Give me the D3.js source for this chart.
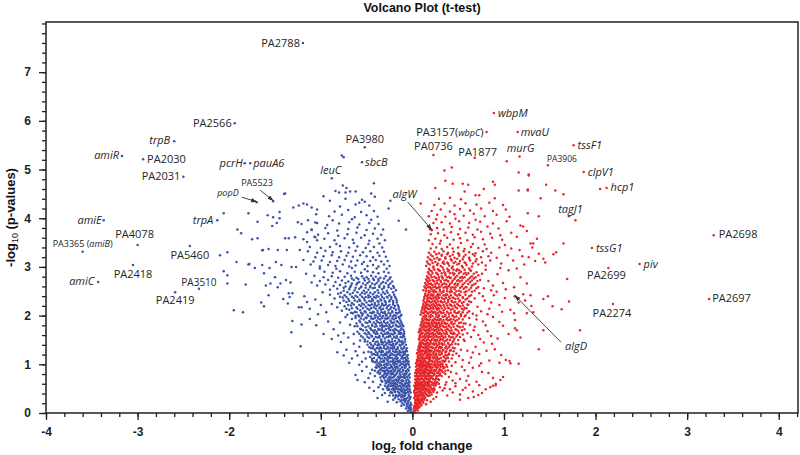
<!DOCTYPE html>
<html><head><meta charset="utf-8">
<script src="https://cdn.jsdelivr.net/npm/d3@7"></script>
<style>body{margin:0;background:#fff}</style>
</head><body>
<svg id="chart" width="800" height="455"></svg>
<script>
// ---------------- DATA ----------------
const chartTitle = "Volcano Plot (t-test)";
const xTickValues = [-4,-3,-2,-1,0,1,2,3,4];
const yTickValues = [0,1,2,3,4,5,6,7];

// down-regulated genes (log2 FC < 0): [log2FC, -log10 p]
const downPts = [
[-0.01,0.02],[-0.03,0.05],[-0.02,0.09],[-0.05,0.04],[-0.04,0.12],[-0.07,0.09],[-0.03,0.16],[-0.06,0.14],[-0.09,0.17],[-0.02,0.21],[-0.05,0.19],[-0.08,0.23],[-0.11,0.20],[-0.04,0.25],[-0.07,0.27],[-0.10,0.26],[-0.13,0.24],[-0.03,0.29],[-0.09,0.30],[-0.15,0.28],[-0.12,0.15],[-0.17,0.22],[-0.21,0.27],[-0.27,0.23],[-0.38,0.31],
[-0.02,0.33],[-0.06,0.31],[-0.09,0.35],[-0.12,0.32],[-0.16,0.34],[-0.19,0.31],[-0.04,0.38],[-0.07,0.41],[-0.11,0.38],[-0.14,0.40],[-0.18,0.37],[-0.22,0.41],[-0.25,0.36],[-0.03,0.45],[-0.08,0.46],[-0.10,0.43],[-0.13,0.47],[-0.16,0.44],[-0.20,0.46],[-0.23,0.43],[-0.27,0.47],[-0.05,0.51],[-0.07,0.54],[-0.12,0.52],[-0.15,0.50],[-0.18,0.53],[-0.21,0.51],[-0.24,0.55],[-0.28,0.52],[-0.04,0.58],[-0.09,0.57],[-0.11,0.59],[-0.14,0.56],[-0.17,0.59],[-0.20,0.57],[-0.23,0.60],[-0.26,0.58],[-0.30,0.56],[-0.32,0.49],[-0.35,0.58],[-0.30,0.41],[-0.37,0.53],[-0.42,0.45],[-0.06,0.48],[-0.13,0.36],[-0.19,0.49],[-0.08,0.39],[-0.16,0.55],[-0.25,0.48],[-0.33,0.37],
[-0.03,0.63],[-0.07,0.62],[-0.10,0.65],[-0.12,0.61],[-0.16,0.64],[-0.19,0.62],[-0.22,0.66],[-0.26,0.63],[-0.29,0.61],[-0.05,0.69],[-0.08,0.72],[-0.11,0.68],[-0.14,0.71],[-0.18,0.69],[-0.21,0.73],[-0.24,0.70],[-0.27,0.68],[-0.31,0.72],[-0.34,0.67],[-0.04,0.77],[-0.09,0.76],[-0.13,0.78],[-0.15,0.75],[-0.19,0.77],[-0.23,0.79],[-0.25,0.75],[-0.28,0.78],[-0.33,0.76],[-0.36,0.80],[-0.06,0.83],[-0.08,0.81],[-0.12,0.84],[-0.17,0.82],[-0.20,0.85],[-0.22,0.82],[-0.26,0.84],[-0.30,0.83],[-0.32,0.86],[-0.38,0.83],[-0.41,0.87],[-0.05,0.90],[-0.10,0.89],[-0.13,0.91],[-0.15,0.88],[-0.18,0.92],[-0.21,0.90],[-0.24,0.93],[-0.28,0.89],[-0.31,0.92],[-0.35,0.90],[-0.39,0.93],[-0.07,0.96],[-0.09,0.98],[-0.14,0.97],[-0.17,0.95],[-0.20,0.99],[-0.23,0.96],[-0.27,0.98],[-0.30,0.95],[-0.34,0.98],[-0.37,0.96],[-0.44,0.89],[-0.48,0.72],[-0.55,0.86],[-0.60,0.68],[-0.62,0.78],[-0.50,0.95],[-0.43,0.64],[-0.47,0.52],[-0.58,0.99],[-0.41,0.76],[-0.52,0.63],[-0.46,0.81],[-0.11,0.74],[-0.17,0.66],[-0.24,0.87],[-0.29,0.81],[-0.06,0.74],[-0.16,0.86],[-0.35,0.73],
[-0.05,1.02],[-0.08,1.05],[-0.12,1.01],[-0.15,1.04],[-0.19,1.02],[-0.22,1.06],[-0.26,1.03],[-0.29,1.01],[-0.33,1.05],[-0.37,1.02],[-0.41,1.04],[-0.07,1.09],[-0.10,1.12],[-0.14,1.08],[-0.17,1.11],[-0.21,1.09],[-0.24,1.13],[-0.28,1.10],[-0.31,1.08],[-0.35,1.12],[-0.39,1.09],[-0.44,1.11],[-0.06,1.16],[-0.11,1.15],[-0.13,1.18],[-0.18,1.16],[-0.20,1.19],[-0.25,1.17],[-0.27,1.15],[-0.32,1.18],[-0.36,1.16],[-0.40,1.19],[-0.46,1.15],[-0.09,1.22],[-0.12,1.24],[-0.16,1.21],[-0.19,1.25],[-0.23,1.22],[-0.26,1.24],[-0.30,1.21],[-0.34,1.25],[-0.38,1.23],[-0.42,1.21],[-0.48,1.26],[-0.07,1.29],[-0.11,1.31],[-0.14,1.28],[-0.18,1.30],[-0.22,1.32],[-0.25,1.29],[-0.29,1.31],[-0.33,1.28],[-0.36,1.32],[-0.41,1.30],[-0.45,1.33],[-0.09,1.36],[-0.13,1.38],[-0.16,1.35],[-0.20,1.37],[-0.23,1.39],[-0.27,1.36],[-0.31,1.38],[-0.35,1.35],[-0.38,1.39],[-0.43,1.37],[-0.49,1.40],[-0.10,1.43],[-0.12,1.46],[-0.17,1.44],[-0.21,1.42],[-0.24,1.46],[-0.28,1.43],[-0.32,1.45],[-0.37,1.42],[-0.40,1.46],[-0.46,1.44],[-0.52,1.47],[-0.55,1.05],[-0.60,1.18],[-0.66,1.12],[-0.72,1.30],[-0.58,1.36],[-0.64,1.42],[-0.78,1.46],[-0.53,1.24],[-0.69,1.03],[-0.82,1.25],[-0.57,1.49],[-0.62,1.27],[-0.51,1.12],[-0.75,1.18],[-0.14,1.48],[-0.26,1.49],[-0.34,1.48],[-0.08,1.26],[-0.16,1.07],[-0.29,1.19],[-0.21,1.35],[-0.39,1.33],[-0.44,1.07],
[-0.08,1.52],[-0.11,1.55],[-0.15,1.51],[-0.18,1.54],[-0.22,1.52],[-0.26,1.56],[-0.30,1.53],[-0.34,1.51],[-0.38,1.55],[-0.42,1.52],[-0.47,1.54],[-0.52,1.51],[-0.10,1.59],[-0.13,1.62],[-0.17,1.58],[-0.21,1.61],[-0.25,1.59],[-0.28,1.63],[-0.32,1.60],[-0.36,1.58],[-0.40,1.62],[-0.45,1.59],[-0.50,1.61],[-0.56,1.58],[-0.09,1.67],[-0.14,1.66],[-0.16,1.69],[-0.20,1.67],[-0.24,1.70],[-0.27,1.66],[-0.31,1.68],[-0.35,1.71],[-0.39,1.67],[-0.43,1.69],[-0.48,1.66],[-0.54,1.70],[-0.60,1.67],[-0.12,1.74],[-0.15,1.77],[-0.19,1.73],[-0.23,1.76],[-0.26,1.74],[-0.30,1.78],[-0.33,1.75],[-0.37,1.73],[-0.41,1.77],[-0.46,1.74],[-0.51,1.76],[-0.57,1.73],[-0.63,1.78],[-0.11,1.82],[-0.14,1.84],[-0.18,1.81],[-0.22,1.85],[-0.25,1.82],[-0.29,1.84],[-0.33,1.81],[-0.36,1.85],[-0.40,1.83],[-0.44,1.81],[-0.49,1.85],[-0.55,1.82],[-0.61,1.84],[-0.13,1.90],[-0.17,1.89],[-0.20,1.92],[-0.24,1.90],[-0.28,1.93],[-0.31,1.89],[-0.35,1.92],[-0.39,1.90],[-0.43,1.93],[-0.47,1.89],[-0.53,1.92],[-0.58,1.90],[-0.66,1.93],[-0.15,1.97],[-0.21,1.98],[-0.27,1.96],[-0.32,1.99],[-0.38,1.97],[-0.45,1.98],[-0.51,1.96],[-0.70,1.55],[-0.75,1.64],[-0.81,1.59],[-0.68,1.81],[-0.86,1.72],[-0.92,1.88],[-0.73,1.97],[-0.97,1.62],[-1.05,1.80],[-1.12,1.93],[-0.79,1.86],[-0.88,1.52],[-0.64,1.62],[-0.58,1.98],
[-0.12,2.02],[-0.16,2.05],[-0.20,2.01],[-0.24,2.04],[-0.28,2.02],[-0.32,2.06],[-0.36,2.03],[-0.40,2.01],[-0.44,2.05],[-0.49,2.02],[-0.54,2.04],[-0.59,2.01],[-0.65,2.05],[-0.71,2.02],[-0.14,2.10],[-0.18,2.12],[-0.22,2.09],[-0.26,2.11],[-0.30,2.08],[-0.34,2.12],[-0.38,2.10],[-0.43,2.08],[-0.47,2.12],[-0.52,2.09],[-0.57,2.11],[-0.63,2.08],[-0.69,2.12],[-0.77,2.10],[-0.15,2.18],[-0.19,2.20],[-0.23,2.17],[-0.27,2.19],[-0.31,2.21],[-0.35,2.18],[-0.39,2.20],[-0.42,2.17],[-0.46,2.21],[-0.51,2.18],[-0.56,2.20],[-0.61,2.17],[-0.67,2.21],[-0.74,2.19],[-0.82,2.17],[-0.17,2.27],[-0.21,2.26],[-0.25,2.29],[-0.29,2.27],[-0.33,2.25],[-0.37,2.28],[-0.41,2.26],[-0.45,2.29],[-0.50,2.27],[-0.55,2.25],[-0.60,2.29],[-0.66,2.26],[-0.72,2.28],[-0.79,2.26],[-0.18,2.35],[-0.23,2.34],[-0.27,2.37],[-0.31,2.35],[-0.35,2.33],[-0.40,2.36],[-0.44,2.34],[-0.48,2.37],[-0.53,2.35],[-0.58,2.33],[-0.64,2.36],[-0.70,2.34],[-0.76,2.37],[-0.85,2.35],[-0.20,2.43],[-0.25,2.42],[-0.30,2.45],[-0.34,2.43],[-0.39,2.41],[-0.43,2.44],[-0.48,2.42],[-0.52,2.45],[-0.57,2.43],[-0.62,2.41],[-0.68,2.44],[-0.74,2.42],[-0.81,2.45],[-0.90,2.43],[-0.94,2.07],[-1.00,2.22],[-1.06,2.33],[-0.98,2.48],[-1.12,2.14],[-1.18,2.40],[-0.88,2.24],[-1.03,2.03],[-1.15,2.28],
[-0.18,2.52],[-0.23,2.55],[-0.28,2.51],[-0.33,2.54],[-0.38,2.52],[-0.43,2.56],[-0.48,2.53],[-0.53,2.51],[-0.58,2.55],[-0.63,2.52],[-0.69,2.54],[-0.75,2.51],[-0.82,2.55],[-0.90,2.53],[-0.21,2.61],[-0.26,2.63],[-0.31,2.60],[-0.36,2.62],[-0.41,2.64],[-0.46,2.61],[-0.51,2.63],[-0.56,2.60],[-0.61,2.64],[-0.67,2.62],[-0.73,2.60],[-0.79,2.63],[-0.86,2.61],[-0.95,2.64],[-1.04,2.62],[-0.22,2.70],[-0.27,2.72],[-0.32,2.69],[-0.37,2.71],[-0.42,2.73],[-0.47,2.70],[-0.52,2.72],[-0.58,2.69],[-0.64,2.73],[-0.70,2.70],[-0.77,2.72],[-0.84,2.69],[-0.92,2.73],[-1.01,2.71],[-1.10,2.68],[-0.24,2.79],[-0.29,2.81],[-0.35,2.78],[-0.40,2.80],[-0.45,2.82],[-0.50,2.79],[-0.55,2.81],[-0.61,2.78],[-0.67,2.82],[-0.74,2.80],[-0.81,2.78],[-0.88,2.81],[-0.97,2.79],[-1.07,2.82],[-0.26,2.88],[-0.31,2.90],[-0.37,2.87],[-0.43,2.89],[-0.49,2.91],[-0.56,2.88],[-0.63,2.90],[-0.71,2.87],[-0.79,2.91],[-0.87,2.88],[-0.96,2.90],[-1.16,2.86],[-0.28,2.96],[-0.39,2.97],[-0.52,2.95],[-0.66,2.98],[-0.83,2.96],[-1.01,2.97],
[-0.25,3.02],[-0.31,3.05],[-0.37,3.01],[-0.43,3.04],[-0.49,3.02],[-0.55,3.06],[-0.62,3.03],[-0.69,3.01],[-0.76,3.05],[-0.84,3.02],[-0.92,3.04],[-1.01,3.01],[-1.11,3.05],[-0.27,3.12],[-0.34,3.11],[-0.40,3.14],[-0.46,3.12],[-0.53,3.10],[-0.60,3.13],[-0.67,3.11],[-0.74,3.14],[-0.82,3.12],[-0.90,3.10],[-0.99,3.13],[-1.08,3.11],[-1.19,3.14],[-0.29,3.21],[-0.36,3.23],[-0.43,3.20],[-0.50,3.22],[-0.57,3.24],[-0.65,3.21],[-0.72,3.23],[-0.80,3.20],[-0.88,3.24],[-0.97,3.22],[-1.06,3.20],[-0.31,3.31],[-0.38,3.29],[-0.46,3.32],[-0.54,3.30],[-0.62,3.33],[-0.70,3.29],[-0.78,3.32],[-0.87,3.30],[-0.95,3.33],[-1.04,3.29],[-1.14,3.32],[-0.33,3.40],[-0.42,3.41],[-0.51,3.39],[-0.60,3.42],[-0.69,3.40],[-0.79,3.43],[-0.90,3.41],[-1.00,3.39],[-0.36,3.48],[-0.48,3.47],[-0.64,3.49],[-0.83,3.47],
[-0.30,3.55],[-0.38,3.58],[-0.47,3.54],[-0.56,3.60],[-0.65,3.56],[-0.74,3.59],[-0.85,3.55],[-0.96,3.58],[-1.07,3.62],[-1.19,3.57],[-0.34,3.66],[-0.43,3.68],[-0.52,3.65],[-0.61,3.70],[-0.71,3.67],[-0.81,3.64],[-0.92,3.69],[-1.03,3.66],[-1.15,3.71],[-0.32,3.77],[-0.41,3.79],[-0.50,3.76],[-0.60,3.81],[-0.70,3.78],[-0.82,3.75],[-0.95,3.80],[-1.10,3.77],[-0.37,3.88],[-0.47,3.90],[-0.58,3.87],[-0.69,3.92],[-0.80,3.89],[-0.93,3.86],[-1.06,3.91],[-1.21,3.88],[-0.45,3.97],[-0.66,3.98],[-0.87,3.96],
[-0.38,4.03],[-0.50,4.06],[-0.63,4.02],[-0.77,4.07],[-0.91,4.04],[-1.05,4.08],[-0.42,4.15],[-0.56,4.13],[-0.70,4.17],[-0.85,4.14],[-0.47,4.26],[-0.62,4.28],[-0.79,4.24],[-0.55,4.38],[-0.73,4.40],[-0.90,4.36],[-0.41,4.44],[-0.62,4.55],[-0.72,4.62],[-0.84,4.56],[-0.42,4.72]
];

// extra genes inside the dense down-regulated core
const downCore = [
[-0.01,0.07],[-0.02,0.12],[-0.04,0.09],[-0.06,0.19],[-0.01,0.17],[-0.08,0.27],[-0.12,0.26],[-0.05,0.23],[-0.03,0.31],
[-0.04,0.35],[-0.08,0.36],[-0.11,0.34],[-0.15,0.36],[-0.18,0.35],[-0.21,0.36],
[-0.02,0.42],[-0.05,0.43],[-0.09,0.42],[-0.12,0.44],[-0.15,0.42],[-0.19,0.43],[-0.24,0.42],
[-0.03,0.49],[-0.09,0.50],[-0.11,0.48],[-0.14,0.49],[-0.17,0.50],[-0.22,0.49],[-0.26,0.50],
[-0.03,0.55],[-0.06,0.56],[-0.10,0.55],[-0.13,0.56],[-0.19,0.55],[-0.22,0.56],[-0.27,0.55],
[-0.05,0.61],[-0.08,0.60],[-0.14,0.62],[-0.18,0.60],[-0.21,0.61],[-0.24,0.62],[-0.28,0.64],
[-0.04,0.66],[-0.07,0.67],[-0.12,0.66],[-0.15,0.68],[-0.20,0.67],[-0.25,0.66],[-0.30,0.67],[-0.33,0.64],
[-0.03,0.73],[-0.09,0.73],[-0.13,0.74],[-0.16,0.73],[-0.20,0.75],[-0.23,0.73],[-0.26,0.72],[-0.29,0.74],[-0.32,0.75],
[-0.03,0.80],[-0.07,0.79],[-0.10,0.80],[-0.14,0.81],[-0.18,0.79],[-0.21,0.80],[-0.24,0.81],[-0.27,0.80],[-0.31,0.79],[-0.35,0.82],
[-0.04,0.87],[-0.07,0.86],[-0.10,0.87],[-0.14,0.86],[-0.19,0.88],[-0.23,0.86],[-0.27,0.87],[-0.30,0.86],[-0.34,0.88],[-0.37,0.86],
[-0.03,0.94],[-0.08,0.93],[-0.11,0.94],[-0.16,0.93],[-0.19,0.95],[-0.22,0.94],[-0.26,0.92],[-0.29,0.94],[-0.33,0.93],[-0.36,0.95],[-0.40,0.94],
[-0.04,0.99],[-0.07,1.00],[-0.10,1.01],[-0.13,0.99],[-0.17,1.00],[-0.21,1.01],[-0.24,0.99],[-0.28,1.00],[-0.31,0.99],[-0.35,1.00],[-0.39,0.99],
[-0.04,1.06],[-0.06,1.07],[-0.10,1.06],[-0.13,1.05],[-0.18,1.06],[-0.20,1.05],[-0.24,1.06],[-0.27,1.07],[-0.31,1.05],[-0.35,1.06],[-0.39,1.05],[-0.43,1.06],
[-0.05,1.12],[-0.08,1.13],[-0.12,1.12],[-0.16,1.13],[-0.19,1.12],[-0.22,1.13],[-0.26,1.12],[-0.30,1.13],[-0.33,1.12],[-0.37,1.14],[-0.42,1.13],
[-0.05,1.19],[-0.08,1.20],[-0.10,1.19],[-0.14,1.20],[-0.17,1.19],[-0.22,1.20],[-0.24,1.19],[-0.28,1.20],[-0.31,1.19],[-0.34,1.20],[-0.38,1.19],[-0.44,1.20],
[-0.06,1.27],[-0.10,1.26],[-0.14,1.25],[-0.17,1.26],[-0.21,1.27],[-0.25,1.26],[-0.28,1.25],[-0.32,1.26],[-0.36,1.27],[-0.40,1.26],[-0.45,1.25],
[-0.06,1.33],[-0.09,1.34],[-0.12,1.33],[-0.16,1.32],[-0.20,1.33],[-0.24,1.34],[-0.27,1.33],[-0.31,1.34],[-0.34,1.33],[-0.38,1.34],[-0.43,1.33],[-0.47,1.35],
[-0.07,1.40],[-0.11,1.41],[-0.14,1.40],[-0.18,1.41],[-0.22,1.40],[-0.25,1.41],[-0.29,1.40],[-0.33,1.41],[-0.36,1.40],[-0.41,1.41],[-0.45,1.40],
[-0.08,1.47],[-0.11,1.48],[-0.15,1.47],[-0.19,1.48],[-0.22,1.47],[-0.26,1.46],[-0.30,1.47],[-0.34,1.46],[-0.38,1.47],[-0.43,1.48],[-0.49,1.47],
[-0.09,1.57],[-0.13,1.56],[-0.17,1.55],[-0.20,1.56],[-0.24,1.57],[-0.28,1.56],[-0.32,1.57],[-0.36,1.55],[-0.40,1.56],[-0.44,1.57],[-0.49,1.56],[-0.54,1.55],
[-0.09,1.63],[-0.12,1.64],[-0.15,1.63],[-0.19,1.64],[-0.23,1.63],[-0.26,1.64],[-0.30,1.63],[-0.34,1.64],[-0.38,1.63],[-0.42,1.65],[-0.47,1.63],[-0.52,1.64],[-0.58,1.63],
[-0.10,1.71],[-0.13,1.70],[-0.18,1.71],[-0.21,1.70],[-0.25,1.71],[-0.29,1.72],[-0.33,1.70],[-0.37,1.71],[-0.41,1.70],[-0.45,1.71],[-0.50,1.70],[-0.56,1.72],
[-0.10,1.78],[-0.13,1.79],[-0.17,1.78],[-0.21,1.79],[-0.25,1.78],[-0.28,1.79],[-0.32,1.78],[-0.35,1.79],[-0.39,1.78],[-0.44,1.79],[-0.48,1.78],[-0.54,1.79],[-0.60,1.78],
[-0.12,1.86],[-0.16,1.87],[-0.20,1.86],[-0.23,1.87],[-0.27,1.86],[-0.31,1.87],[-0.34,1.86],[-0.38,1.87],[-0.42,1.86],[-0.46,1.87],[-0.51,1.86],[-0.57,1.87],
[-0.14,1.94],[-0.18,1.95],[-0.22,1.94],[-0.26,1.95],[-0.30,1.94],[-0.33,1.95],[-0.37,1.94],[-0.41,1.95],[-0.45,1.94],[-0.50,1.95],[-0.56,1.94],[-0.62,1.95],
[-0.13,1.99],[-0.18,2.00],[-0.24,1.99],[-0.29,2.00],[-0.35,1.99],[-0.41,2.00],[-0.48,1.99],[-0.55,2.00],[-0.62,1.99],
[-0.14,2.07],[-0.18,2.06],[-0.22,2.07],[-0.26,2.06],[-0.30,2.05],[-0.34,2.07],[-0.38,2.06],[-0.42,2.07],[-0.46,2.06],[-0.51,2.07],[-0.56,2.06],[-0.61,2.07],[-0.67,2.06],
[-0.15,2.14],[-0.20,2.15],[-0.24,2.14],[-0.28,2.15],[-0.32,2.14],[-0.36,2.15],[-0.40,2.14],[-0.45,2.15],[-0.49,2.14],[-0.54,2.15],[-0.60,2.14],[-0.66,2.15],[-0.72,2.14],
[-0.16,2.22],[-0.21,2.23],[-0.25,2.22],[-0.29,2.23],[-0.33,2.22],[-0.37,2.23],[-0.41,2.22],[-0.44,2.23],[-0.48,2.22],[-0.53,2.23],[-0.58,2.22],[-0.64,2.23],[-0.70,2.22],
[-0.17,2.31],[-0.21,2.30],[-0.25,2.31],[-0.30,2.30],[-0.34,2.31],[-0.38,2.30],[-0.43,2.31],[-0.47,2.30],[-0.52,2.31],[-0.57,2.30],[-0.63,2.31],[-0.69,2.30],[-0.75,2.31],
[-0.19,2.39],[-0.23,2.38],[-0.28,2.39],[-0.33,2.38],[-0.37,2.39],[-0.42,2.38],[-0.46,2.39],[-0.51,2.38],[-0.55,2.39],[-0.60,2.38],[-0.66,2.39],[-0.72,2.38],[-0.79,2.39],
[-0.21,2.48],[-0.27,2.47],[-0.32,2.48],[-0.37,2.47],[-0.41,2.48],[-0.46,2.47],[-0.50,2.48],[-0.55,2.47],[-0.60,2.48],[-0.65,2.47],[-0.71,2.48],[-0.78,2.47],
[-0.20,2.57],[-0.26,2.58],[-0.31,2.57],[-0.36,2.58],[-0.41,2.57],[-0.46,2.58],[-0.51,2.57],[-0.56,2.58],[-0.62,2.57],[-0.68,2.58],[-0.75,2.57],
[-0.24,2.66],[-0.29,2.67],[-0.34,2.66],[-0.39,2.67],[-0.44,2.66],[-0.49,2.67],[-0.54,2.66],[-0.60,2.67],[-0.66,2.66],[-0.73,2.67],
[-0.25,2.75],[-0.31,2.76],[-0.37,2.75],[-0.43,2.76],[-0.48,2.75],[-0.53,2.76],[-0.59,2.75],[-0.66,2.76]
];

// down-regulated genes far from the main cloud
const downOutliers = [
[-2.06,4.10],[-1.79,4.10],[-1.69,3.93],[-1.91,3.77],[-1.87,3.69],[-1.75,3.57],[-1.69,3.59],[-2.10,3.24],[-2.02,3.30],[-1.92,3.10],[-1.79,3.05],[-2.06,2.91],[-2.02,2.83],[-2.02,2.66],[-1.82,2.64],[-1.95,2.11],[-1.85,2.07],[-1.64,3.34],[-1.78,3.06],[-1.72,2.98],[-1.64,3.04],[-1.56,2.98],[-1.49,3.10],[-1.43,3.04],[-1.32,3.00],[-1.27,3.00],[-1.63,3.35],[-1.57,3.37],[-1.47,3.35],[-1.39,3.59],[-1.35,3.59],[-1.28,3.61],[-1.37,3.35],[-1.58,4.06],[-1.48,3.90],[-1.53,3.84],[-1.52,4.02],[-1.45,4.00],[-1.40,4.50],[-1.45,4.13],[-1.24,4.26],[-1.19,4.30],[-1.15,4.28],[-1.25,3.92],[-1.14,3.96],[-1.10,3.76],[-1.04,3.90],[-1.06,3.61],[-1.15,3.51],[-1.23,3.35],[-1.12,3.41],[-1.04,3.55],[-1.62,2.87],[-1.60,2.62],[-1.57,2.42],[-1.65,2.27],[-1.62,2.19],[-1.55,2.66],[-1.50,2.79],[-1.47,2.58],[-1.44,2.66],[-1.38,2.73],[-1.33,2.68],[-1.41,2.34],[-1.36,2.25],[-1.35,2.46],[-1.31,2.46],[-1.34,2.38],[-1.24,2.17],[-1.21,2.17],[-1.31,1.89],[-1.32,1.66],[-1.21,1.82],[-1.22,1.37],[-1.39,4.51],[-0.97,4.45],[-0.77,5.29],[-0.75,5.25],[-0.76,4.67],[-0.80,4.53],[-0.73,4.53],[-0.68,4.55],[-0.45,4.51],[-0.24,4.36],[-0.26,4.20],[-0.15,3.95],[-0.07,3.77],[-1.30,4.22],[-1.10,4.22],[-1.04,4.18],[-0.58,4.32],[-0.52,4.34]
];

// up-regulated genes (log2 FC > 0)
const upPts = [
[0.01,0.02],[0.02,0.05],[0.03,0.03],[0.02,0.09],[0.04,0.07],[0.03,0.12],[0.05,0.10],[0.06,0.14],[0.04,0.16],[0.07,0.18],[0.03,0.19],[0.05,0.21],[0.08,0.22],[0.06,0.24],[0.10,0.25],[0.04,0.26],[0.07,0.28],[0.11,0.29],[0.09,0.19],[0.13,0.27],[0.05,0.29],[0.08,0.13],[0.12,0.21],[0.16,0.26],[0.20,0.23],[0.02,0.14],[0.06,0.05],[0.10,0.16],[0.15,0.18],[0.23,0.29],
[0.02,0.31],[0.04,0.34],[0.06,0.32],[0.08,0.35],[0.10,0.31],[0.12,0.34],[0.14,0.32],[0.17,0.35],[0.03,0.38],[0.05,0.41],[0.07,0.37],[0.09,0.40],[0.11,0.38],[0.13,0.42],[0.15,0.39],[0.18,0.41],[0.21,0.38],[0.02,0.45],[0.04,0.47],[0.06,0.44],[0.08,0.48],[0.10,0.45],[0.12,0.47],[0.14,0.44],[0.16,0.48],[0.19,0.45],[0.22,0.47],[0.03,0.52],[0.05,0.54],[0.07,0.51],[0.09,0.55],[0.11,0.52],[0.13,0.54],[0.15,0.51],[0.17,0.55],[0.20,0.53],[0.23,0.51],[0.04,0.58],[0.06,0.60],[0.08,0.57],[0.10,0.59],[0.12,0.58],[0.14,0.60],[0.16,0.57],[0.18,0.59],[0.21,0.58],[0.25,0.56],[0.27,0.42],[0.30,0.53],[0.33,0.46],[0.36,0.58],[0.41,0.49],[0.47,0.55],[0.52,0.38],[0.58,0.52],[0.66,0.44],[0.73,0.57],[0.80,0.49],[0.26,0.33],[0.29,0.60],[0.38,0.36],[0.44,0.42],[0.62,0.58],[0.88,0.56],[0.55,0.47],[0.24,0.47],[0.35,0.51],[0.52,0.27],[0.61,0.31],[0.67,0.33],[0.72,0.37],[0.76,0.41],[0.85,0.53],[0.91,0.57],
[0.03,0.62],[0.05,0.65],[0.07,0.61],[0.09,0.64],[0.11,0.62],[0.13,0.66],[0.15,0.63],[0.17,0.61],[0.19,0.65],[0.22,0.62],[0.25,0.64],[0.04,0.69],[0.06,0.72],[0.08,0.68],[0.10,0.71],[0.12,0.69],[0.14,0.73],[0.16,0.70],[0.18,0.68],[0.20,0.72],[0.23,0.69],[0.26,0.71],[0.29,0.68],[0.03,0.76],[0.05,0.78],[0.07,0.75],[0.09,0.79],[0.11,0.76],[0.13,0.78],[0.15,0.75],[0.17,0.79],[0.19,0.77],[0.21,0.75],[0.24,0.79],[0.27,0.76],[0.30,0.78],[0.04,0.83],[0.06,0.85],[0.08,0.82],[0.10,0.86],[0.12,0.83],[0.14,0.85],[0.16,0.82],[0.18,0.86],[0.20,0.84],[0.22,0.82],[0.25,0.86],[0.28,0.83],[0.32,0.85],[0.05,0.90],[0.07,0.92],[0.09,0.89],[0.11,0.93],[0.13,0.90],[0.15,0.92],[0.17,0.89],[0.19,0.93],[0.21,0.91],[0.24,0.89],[0.27,0.93],[0.30,0.90],[0.34,0.92],[0.06,0.97],[0.08,0.99],[0.10,0.96],[0.12,0.98],[0.14,0.96],[0.16,0.99],[0.18,0.97],[0.20,0.95],[0.23,0.99],[0.26,0.96],[0.29,0.98],[0.33,0.96],[0.37,0.63],[0.40,0.74],[0.44,0.67],[0.48,0.81],[0.52,0.70],[0.57,0.88],[0.61,0.76],[0.66,0.93],[0.70,0.64],[0.76,0.84],[0.83,0.82],[0.88,0.72],[0.99,0.74],[0.96,0.68],[0.91,0.60],[0.39,0.88],[0.43,0.97],[0.36,0.80],[0.54,0.95],[0.47,0.61],[0.59,0.66],[0.73,0.97],[0.42,0.84],[0.38,0.95],
[0.04,1.02],[0.06,1.05],[0.08,1.01],[0.10,1.04],[0.12,1.02],[0.14,1.06],[0.17,1.03],[0.19,1.01],[0.22,1.05],[0.25,1.02],[0.28,1.04],[0.31,1.01],[0.35,1.05],[0.05,1.09],[0.07,1.12],[0.09,1.08],[0.11,1.11],[0.13,1.09],[0.16,1.13],[0.18,1.10],[0.20,1.08],[0.23,1.12],[0.26,1.09],[0.29,1.11],[0.33,1.08],[0.37,1.12],[0.06,1.16],[0.08,1.18],[0.10,1.15],[0.12,1.19],[0.15,1.16],[0.17,1.18],[0.19,1.15],[0.21,1.19],[0.24,1.17],[0.27,1.15],[0.30,1.19],[0.34,1.16],[0.38,1.18],[0.05,1.23],[0.07,1.25],[0.09,1.22],[0.11,1.26],[0.14,1.23],[0.16,1.25],[0.18,1.22],[0.20,1.26],[0.23,1.24],[0.26,1.22],[0.29,1.26],[0.32,1.23],[0.36,1.25],[0.40,1.22],[0.06,1.30],[0.08,1.32],[0.10,1.29],[0.13,1.33],[0.15,1.30],[0.17,1.32],[0.19,1.29],[0.22,1.33],[0.25,1.31],[0.28,1.29],[0.31,1.33],[0.34,1.30],[0.38,1.32],[0.42,1.29],[0.07,1.37],[0.09,1.39],[0.11,1.36],[0.14,1.40],[0.16,1.37],[0.18,1.39],[0.21,1.36],[0.24,1.40],[0.27,1.38],[0.30,1.36],[0.33,1.40],[0.37,1.37],[0.41,1.39],[0.08,1.44],[0.10,1.46],[0.12,1.43],[0.15,1.47],[0.17,1.44],[0.20,1.46],[0.23,1.43],[0.26,1.47],[0.29,1.45],[0.32,1.43],[0.35,1.47],[0.39,1.44],[0.44,1.46],[0.47,1.04],[0.51,1.17],[0.55,1.09],[0.60,1.28],[0.64,1.14],[0.69,1.36],[0.73,1.21],[0.78,1.45],[0.84,1.08],[0.90,1.31],[0.97,1.19],[1.07,1.02],[0.46,1.33],[0.50,1.41],[0.57,1.48],[0.62,1.03],[0.66,1.24],[0.75,1.02],[0.81,1.28],[0.87,1.42],[0.48,1.22],[0.53,1.30],
[0.07,1.52],[0.09,1.55],[0.12,1.51],[0.14,1.54],[0.17,1.52],[0.19,1.56],[0.22,1.53],[0.25,1.51],[0.28,1.55],[0.31,1.52],[0.34,1.54],[0.38,1.51],[0.42,1.55],[0.46,1.53],[0.08,1.59],[0.10,1.62],[0.13,1.58],[0.15,1.61],[0.18,1.59],[0.21,1.63],[0.23,1.60],[0.26,1.58],[0.29,1.62],[0.32,1.59],[0.36,1.61],[0.40,1.58],[0.44,1.62],[0.49,1.60],[0.07,1.66],[0.09,1.68],[0.11,1.65],[0.14,1.69],[0.16,1.66],[0.19,1.68],[0.22,1.65],[0.24,1.69],[0.27,1.67],[0.30,1.65],[0.33,1.69],[0.37,1.66],[0.41,1.68],[0.45,1.65],[0.50,1.69],[0.08,1.73],[0.11,1.75],[0.13,1.72],[0.15,1.76],[0.18,1.73],[0.20,1.75],[0.23,1.72],[0.26,1.76],[0.28,1.74],[0.31,1.72],[0.35,1.76],[0.38,1.73],[0.42,1.75],[0.47,1.72],[0.52,1.76],[0.09,1.80],[0.12,1.82],[0.14,1.79],[0.17,1.83],[0.19,1.80],[0.22,1.82],[0.25,1.79],[0.27,1.83],[0.30,1.81],[0.33,1.79],[0.36,1.83],[0.40,1.80],[0.44,1.82],[0.49,1.79],[0.10,1.87],[0.12,1.89],[0.15,1.86],[0.18,1.90],[0.21,1.87],[0.23,1.89],[0.26,1.86],[0.29,1.90],[0.32,1.88],[0.35,1.86],[0.39,1.90],[0.43,1.87],[0.47,1.89],[0.53,1.86],[0.11,1.94],[0.14,1.96],[0.16,1.93],[0.20,1.97],[0.24,1.94],[0.28,1.96],[0.31,1.93],[0.34,1.97],[0.38,1.95],[0.42,1.93],[0.46,1.97],[0.51,1.94],[0.56,1.51],[0.60,1.64],[0.64,1.56],[0.68,1.77],[0.72,1.60],[0.77,1.88],[0.82,1.68],[0.88,1.97],[0.93,1.53],[0.99,1.79],[1.05,1.62],[1.12,1.91],[0.58,1.84],[0.62,1.95],[0.67,1.70],[0.74,1.52],[0.80,1.80],[0.86,1.58],[1.18,1.55],[0.57,1.72],[0.63,1.81],[0.70,1.92],[0.55,1.61],[0.95,1.87],
[0.09,2.02],[0.12,2.05],[0.14,2.01],[0.17,2.04],[0.20,2.02],[0.23,2.06],[0.26,2.03],[0.29,2.01],[0.32,2.05],[0.36,2.02],[0.40,2.04],[0.44,2.01],[0.48,2.05],[0.53,2.03],[0.58,2.01],[0.10,2.10],[0.13,2.12],[0.15,2.09],[0.18,2.13],[0.21,2.10],[0.24,2.08],[0.27,2.12],[0.30,2.09],[0.34,2.11],[0.38,2.08],[0.42,2.12],[0.46,2.10],[0.51,2.08],[0.56,2.12],[0.62,2.09],[0.11,2.17],[0.14,2.19],[0.16,2.16],[0.19,2.20],[0.22,2.17],[0.25,2.19],[0.28,2.16],[0.31,2.20],[0.35,2.18],[0.39,2.16],[0.43,2.20],[0.47,2.17],[0.52,2.19],[0.57,2.16],[0.12,2.24],[0.15,2.26],[0.17,2.23],[0.20,2.27],[0.23,2.24],[0.26,2.26],[0.29,2.23],[0.33,2.27],[0.37,2.25],[0.41,2.23],[0.45,2.27],[0.49,2.24],[0.54,2.26],[0.60,2.23],[0.12,2.31],[0.16,2.33],[0.18,2.30],[0.21,2.34],[0.24,2.31],[0.27,2.33],[0.31,2.30],[0.35,2.34],[0.39,2.32],[0.43,2.30],[0.47,2.34],[0.52,2.31],[0.58,2.33],[0.13,2.38],[0.16,2.40],[0.19,2.37],[0.22,2.41],[0.25,2.38],[0.28,2.40],[0.32,2.37],[0.36,2.41],[0.40,2.39],[0.44,2.37],[0.49,2.41],[0.55,2.38],[0.62,2.40],[0.14,2.45],[0.18,2.47],[0.21,2.44],[0.24,2.48],[0.28,2.45],[0.32,2.47],[0.37,2.44],[0.41,2.48],[0.46,2.46],[0.51,2.44],[0.57,2.48],[0.66,2.04],[0.71,2.18],[0.75,2.09],[0.79,2.31],[0.84,2.14],[0.89,2.42],[0.95,2.22],[1.01,2.36],[1.07,2.12],[1.16,2.27],[0.68,2.35],[0.73,2.46],[0.82,2.03],[0.92,2.49],[0.64,2.28],[0.70,2.00],[0.86,2.27],[0.98,2.08],[1.21,2.44],[0.77,2.40],
[0.12,2.52],[0.15,2.55],[0.18,2.51],[0.21,2.54],[0.24,2.52],[0.27,2.56],[0.30,2.53],[0.34,2.51],[0.38,2.55],[0.42,2.52],[0.46,2.54],[0.51,2.51],[0.56,2.55],[0.62,2.53],[0.68,2.51],[0.13,2.60],[0.16,2.62],[0.19,2.59],[0.22,2.63],[0.25,2.60],[0.29,2.58],[0.32,2.62],[0.36,2.59],[0.40,2.61],[0.44,2.58],[0.49,2.62],[0.54,2.60],[0.59,2.58],[0.65,2.62],[0.72,2.59],[0.14,2.67],[0.17,2.69],[0.20,2.66],[0.24,2.70],[0.27,2.67],[0.31,2.69],[0.35,2.66],[0.39,2.70],[0.43,2.68],[0.47,2.66],[0.52,2.70],[0.57,2.67],[0.63,2.69],[0.69,2.66],[0.15,2.74],[0.18,2.76],[0.22,2.73],[0.26,2.77],[0.29,2.74],[0.33,2.76],[0.37,2.73],[0.41,2.77],[0.46,2.75],[0.50,2.73],[0.55,2.77],[0.61,2.74],[0.67,2.76],[0.74,2.73],[0.16,2.81],[0.20,2.83],[0.24,2.80],[0.28,2.84],[0.32,2.81],[0.36,2.83],[0.40,2.80],[0.45,2.84],[0.49,2.82],[0.54,2.80],[0.59,2.84],[0.65,2.81],[0.72,2.83],[0.17,2.89],[0.21,2.91],[0.26,2.88],[0.30,2.92],[0.35,2.89],[0.39,2.91],[0.44,2.88],[0.48,2.92],[0.53,2.90],[0.58,2.88],[0.64,2.92],[0.70,2.89],[0.18,2.96],[0.23,2.98],[0.28,2.95],[0.33,2.99],[0.38,2.96],[0.43,2.98],[0.49,2.95],[0.55,2.99],[0.62,2.97],[0.78,2.56],[0.83,2.71],[0.88,2.62],[0.93,2.85],[0.99,2.67],[1.05,2.93],[1.11,2.58],[1.18,2.79],[0.80,2.94],[0.86,2.52],[0.96,2.98],[1.25,2.66],[1.02,2.54],[0.76,2.86],[1.14,2.97],
[0.15,3.02],[0.19,3.05],[0.23,3.01],[0.27,3.04],[0.31,3.02],[0.35,3.06],[0.40,3.03],[0.44,3.01],[0.49,3.05],[0.54,3.02],[0.59,3.04],[0.65,3.01],[0.72,3.05],[0.80,3.03],[0.16,3.11],[0.21,3.13],[0.25,3.10],[0.29,3.14],[0.34,3.11],[0.38,3.09],[0.43,3.13],[0.47,3.10],[0.52,3.12],[0.57,3.09],[0.63,3.13],[0.69,3.11],[0.76,3.09],[0.85,3.13],[0.17,3.20],[0.22,3.22],[0.27,3.19],[0.32,3.23],[0.36,3.20],[0.41,3.22],[0.46,3.19],[0.51,3.23],[0.56,3.21],[0.62,3.19],[0.68,3.23],[0.75,3.20],[0.83,3.22],[0.92,3.19],[0.18,3.29],[0.24,3.31],[0.29,3.28],[0.34,3.32],[0.39,3.29],[0.45,3.31],[0.50,3.28],[0.56,3.32],[0.62,3.30],[0.69,3.28],[0.77,3.32],[0.86,3.29],[0.20,3.38],[0.26,3.40],[0.32,3.37],[0.38,3.41],[0.44,3.38],[0.50,3.40],[0.57,3.37],[0.64,3.41],[0.72,3.39],[0.81,3.37],[0.95,3.40],[0.22,3.47],[0.30,3.48],[0.41,3.46],[0.53,3.49],[0.66,3.47],[0.79,3.46],[0.97,3.07],[1.04,3.24],[1.10,3.13],[1.17,3.35],[1.01,3.45],[1.22,3.05],[1.08,3.38],[1.29,3.48],[1.31,3.40],[1.38,3.27],[1.43,3.17],[1.54,3.26],[1.45,3.09],[1.57,3.30],[1.65,3.48],[1.27,3.20],[1.34,3.12],[1.20,3.22],
[0.18,3.55],[0.25,3.58],[0.31,3.54],[0.38,3.60],[0.45,3.56],[0.52,3.59],[0.60,3.55],[0.68,3.61],[0.77,3.57],[0.87,3.60],[0.98,3.56],[0.20,3.67],[0.28,3.69],[0.35,3.65],[0.42,3.71],[0.50,3.67],[0.58,3.70],[0.66,3.66],[0.75,3.72],[0.85,3.68],[0.96,3.65],[1.08,3.70],[0.19,3.78],[0.27,3.80],[0.34,3.77],[0.43,3.82],[0.52,3.78],[0.61,3.81],[0.71,3.77],[0.82,3.83],[0.94,3.79],[1.18,3.85],[1.21,3.83],[0.23,3.90],[0.32,3.92],[0.41,3.89],[0.51,3.94],[0.62,3.90],[0.74,3.93],[0.88,3.89],[1.03,3.94],[0.26,3.98],[0.47,3.99],[0.69,3.97],[1.14,3.62],[1.25,3.74],[1.36,3.58],
[0.18,4.04],[0.27,4.07],[0.36,4.03],[0.46,4.08],[0.56,4.05],[0.67,4.09],[0.79,4.04],[0.92,4.07],[1.06,4.03],[1.26,4.10],[1.38,4.04],[1.71,4.04],[0.21,4.15],[0.31,4.18],[0.41,4.14],[0.52,4.19],[0.63,4.16],[0.75,4.20],[0.88,4.15],[1.02,4.18],[0.09,4.30],[0.24,4.27],[0.35,4.30],[0.46,4.26],[0.58,4.31],[0.70,4.28],[0.84,4.32],[0.99,4.27],[0.29,4.40],[0.41,4.42],[0.53,4.39],[0.69,4.47],[0.73,4.47],[0.90,4.41],[1.40,4.41],[1.65,4.49],[1.56,4.57],[1.26,4.57],
[1.46,4.69],[1.27,4.88],[0.35,4.98],[0.43,5.04],[0.36,4.77],[0.44,4.71],[0.55,4.71],[0.61,4.69],[0.88,4.75],[0.90,4.69],[1.16,4.94],[1.27,4.90],[1.16,4.57],[1.26,4.59],[0.25,4.62],[0.57,4.55],[0.78,4.60],[1.17,5.27]
];

// extra genes inside the dense up-regulated core
const upCore = [
[0.02,0.11],[0.04,0.13],[0.03,0.22],[0.06,0.20],[0.09,0.23],[0.07,0.25],[0.11,0.24],[0.03,0.27],[0.09,0.28],[0.13,0.30],[0.05,0.17],[0.07,0.11],
[0.03,0.35],[0.05,0.36],[0.07,0.34],[0.09,0.37],[0.11,0.35],[0.13,0.36],[0.16,0.37],[0.19,0.36],
[0.02,0.42],[0.04,0.41],[0.06,0.42],[0.08,0.43],[0.10,0.42],[0.12,0.41],[0.14,0.43],[0.17,0.44],[0.20,0.42],[0.23,0.43],
[0.03,0.49],[0.05,0.50],[0.07,0.49],[0.09,0.51],[0.11,0.49],[0.13,0.50],[0.15,0.48],[0.18,0.50],[0.21,0.49],[0.24,0.50],
[0.02,0.56],[0.04,0.55],[0.06,0.57],[0.08,0.55],[0.10,0.56],[0.12,0.55],[0.14,0.57],[0.17,0.56],[0.19,0.55],[0.23,0.57],[0.26,0.59],
[0.04,0.62],[0.06,0.63],[0.08,0.61],[0.10,0.62],[0.12,0.64],[0.14,0.62],[0.16,0.64],[0.18,0.62],[0.21,0.63],[0.24,0.61],[0.27,0.63],
[0.03,0.69],[0.05,0.70],[0.07,0.69],[0.09,0.71],[0.11,0.70],[0.13,0.69],[0.15,0.71],[0.17,0.70],[0.19,0.69],[0.22,0.71],[0.25,0.69],[0.28,0.70],
[0.04,0.75],[0.06,0.76],[0.08,0.77],[0.10,0.75],[0.12,0.76],[0.14,0.77],[0.16,0.76],[0.18,0.75],[0.20,0.76],[0.23,0.77],[0.26,0.75],[0.29,0.77],[0.32,0.76],
[0.03,0.82],[0.05,0.81],[0.07,0.83],[0.09,0.82],[0.11,0.81],[0.13,0.82],[0.15,0.83],[0.17,0.81],[0.19,0.82],[0.21,0.83],[0.24,0.81],[0.27,0.82],[0.30,0.81],[0.34,0.83],
[0.04,0.88],[0.06,0.87],[0.08,0.88],[0.10,0.89],[0.12,0.87],[0.14,0.88],[0.16,0.89],[0.18,0.87],[0.20,0.88],[0.23,0.87],[0.26,0.89],[0.29,0.87],[0.32,0.88],[0.36,0.87],
[0.04,0.95],[0.07,0.96],[0.09,0.94],[0.11,0.95],[0.13,0.96],[0.15,0.94],[0.17,0.95],[0.19,0.96],[0.22,0.94],[0.25,0.95],[0.28,0.94],[0.31,0.95],[0.35,0.94],
[0.05,0.99],[0.07,1.00],[0.09,0.99],[0.11,1.00],[0.13,0.99],[0.15,1.00],[0.18,0.99],[0.21,1.00],[0.24,0.99],[0.27,1.00],[0.30,0.99],[0.33,1.00],[0.37,0.99],
[0.05,1.06],[0.07,1.07],[0.09,1.05],[0.11,1.06],[0.13,1.07],[0.15,1.05],[0.18,1.06],[0.21,1.07],[0.24,1.06],[0.27,1.07],[0.30,1.05],[0.33,1.06],[0.36,1.08],[0.40,1.06],
[0.06,1.13],[0.08,1.12],[0.10,1.13],[0.12,1.14],[0.14,1.12],[0.17,1.13],[0.19,1.12],[0.22,1.14],[0.25,1.13],[0.28,1.12],[0.31,1.13],[0.35,1.14],[0.39,1.13],[0.43,1.12],
[0.06,1.20],[0.09,1.19],[0.11,1.20],[0.13,1.21],[0.16,1.20],[0.18,1.19],[0.20,1.20],[0.23,1.21],[0.26,1.19],[0.29,1.20],[0.32,1.21],[0.36,1.19],[0.40,1.20],[0.44,1.19],
[0.07,1.28],[0.09,1.27],[0.12,1.28],[0.14,1.27],[0.17,1.28],[0.19,1.27],[0.21,1.28],[0.24,1.27],[0.27,1.28],[0.30,1.27],[0.33,1.28],[0.37,1.27],[0.41,1.28],[0.45,1.27],
[0.07,1.34],[0.09,1.35],[0.12,1.34],[0.14,1.35],[0.16,1.34],[0.19,1.35],[0.23,1.34],[0.26,1.35],[0.29,1.34],[0.32,1.35],[0.36,1.34],[0.40,1.35],[0.44,1.34],
[0.08,1.41],[0.10,1.42],[0.13,1.41],[0.15,1.42],[0.18,1.41],[0.20,1.42],[0.23,1.41],[0.26,1.42],[0.29,1.41],[0.32,1.42],[0.35,1.41],[0.39,1.42],[0.43,1.41],[0.47,1.42],
[0.08,1.49],[0.11,1.50],[0.13,1.49],[0.16,1.50],[0.19,1.49],[0.21,1.50],[0.24,1.49],[0.27,1.50],[0.30,1.49],[0.33,1.50],[0.37,1.49],[0.41,1.50],[0.45,1.49],[0.50,1.50],
[0.08,1.56],[0.11,1.57],[0.13,1.56],[0.16,1.57],[0.18,1.56],[0.21,1.57],[0.24,1.56],[0.27,1.57],[0.30,1.56],[0.33,1.57],[0.36,1.56],[0.40,1.57],[0.44,1.56],[0.48,1.57],[0.52,1.56],
[0.09,1.63],[0.11,1.64],[0.14,1.63],[0.17,1.64],[0.19,1.63],[0.22,1.64],[0.25,1.63],[0.28,1.64],[0.31,1.63],[0.34,1.64],[0.38,1.63],[0.42,1.64],[0.46,1.63],[0.51,1.64],
[0.08,1.70],[0.10,1.71],[0.13,1.70],[0.16,1.71],[0.18,1.70],[0.21,1.71],[0.24,1.70],[0.26,1.71],[0.29,1.70],[0.32,1.71],[0.36,1.70],[0.39,1.71],[0.43,1.70],[0.48,1.71],[0.54,1.70],
[0.10,1.77],[0.12,1.78],[0.14,1.77],[0.17,1.78],[0.19,1.77],[0.22,1.78],[0.24,1.77],[0.27,1.78],[0.30,1.77],[0.33,1.78],[0.37,1.77],[0.40,1.78],[0.45,1.77],[0.50,1.78],[0.55,1.77],
[0.10,1.84],[0.13,1.85],[0.16,1.84],[0.18,1.85],[0.21,1.84],[0.24,1.85],[0.26,1.84],[0.29,1.85],[0.32,1.84],[0.35,1.85],[0.38,1.84],[0.42,1.85],[0.46,1.84],[0.51,1.85],[0.56,1.84],
[0.11,1.91],[0.14,1.92],[0.16,1.91],[0.19,1.92],[0.22,1.91],[0.25,1.92],[0.27,1.91],[0.30,1.92],[0.34,1.91],[0.37,1.92],[0.41,1.91],[0.45,1.92],[0.49,1.91],[0.55,1.92],
[0.12,1.98],[0.15,1.99],[0.18,1.98],[0.22,1.99],[0.26,1.98],[0.29,1.99],[0.33,1.98],[0.36,1.99],[0.40,1.98],[0.44,1.99],[0.48,1.98],[0.53,1.99],[0.57,1.98],
[0.10,2.06],[0.13,2.07],[0.16,2.06],[0.19,2.07],[0.22,2.06],[0.25,2.07],[0.28,2.06],[0.31,2.07],[0.34,2.06],[0.38,2.07],[0.42,2.06],[0.46,2.07],[0.50,2.06],[0.55,2.07],[0.60,2.06],
[0.11,2.14],[0.14,2.15],[0.17,2.14],[0.20,2.15],[0.23,2.14],[0.26,2.15],[0.29,2.14],[0.32,2.15],[0.36,2.14],[0.40,2.15],[0.44,2.14],[0.49,2.15],[0.54,2.14],[0.59,2.15],
[0.12,2.21],[0.15,2.22],[0.18,2.21],[0.21,2.22],[0.24,2.21],[0.27,2.22],[0.30,2.21],[0.34,2.22],[0.38,2.21],[0.42,2.22],[0.46,2.21],[0.50,2.22],[0.55,2.21],[0.61,2.22],
[0.13,2.28],[0.16,2.29],[0.19,2.28],[0.22,2.29],[0.25,2.28],[0.28,2.29],[0.31,2.28],[0.35,2.29],[0.39,2.28],[0.43,2.29],[0.47,2.28],[0.51,2.29],[0.56,2.28],[0.62,2.29],
[0.13,2.35],[0.17,2.36],[0.20,2.35],[0.23,2.36],[0.26,2.35],[0.29,2.36],[0.33,2.35],[0.37,2.36],[0.41,2.35],[0.45,2.36],[0.50,2.35],[0.55,2.36],[0.60,2.35],
[0.14,2.42],[0.17,2.43],[0.20,2.42],[0.23,2.43],[0.27,2.42],[0.30,2.43],[0.34,2.42],[0.38,2.43],[0.42,2.42],[0.47,2.43],[0.52,2.42],[0.58,2.43],[0.64,2.42],
[0.15,2.50],[0.19,2.49],[0.22,2.50],[0.26,2.49],[0.30,2.50],[0.34,2.49],[0.38,2.50],[0.43,2.49],[0.48,2.50],[0.53,2.49],[0.59,2.50],[0.65,2.49],
[0.14,2.57],[0.17,2.58],[0.20,2.57],[0.23,2.58],[0.26,2.57],[0.30,2.58],[0.34,2.57],[0.38,2.58],[0.42,2.57],[0.47,2.58],[0.52,2.57],[0.58,2.58],[0.64,2.57],[0.70,2.56],
[0.15,2.64],[0.18,2.65],[0.21,2.64],[0.25,2.65],[0.29,2.64],[0.33,2.65],[0.37,2.64],[0.41,2.65],[0.46,2.64],[0.50,2.65],[0.55,2.64],[0.61,2.65],[0.67,2.64],
[0.16,2.71],[0.19,2.72],[0.23,2.71],[0.27,2.72],[0.31,2.71],[0.35,2.72],[0.39,2.71],[0.44,2.72],[0.49,2.71],[0.54,2.72],[0.59,2.71],[0.65,2.72],[0.71,2.71],
[0.17,2.78],[0.21,2.79],[0.25,2.78],[0.29,2.79],[0.33,2.78],[0.38,2.79],[0.42,2.78],[0.47,2.79],[0.52,2.78],[0.57,2.79],[0.63,2.78],[0.69,2.79],
[0.18,2.86],[0.22,2.87],[0.27,2.86],[0.32,2.87],[0.36,2.86],[0.41,2.87],[0.46,2.86],[0.51,2.87],[0.56,2.86],[0.61,2.87],[0.67,2.86],
[0.19,2.93],[0.24,2.94],[0.29,2.93],[0.34,2.94],[0.40,2.93],[0.45,2.94],[0.51,2.93],[0.57,2.94],[0.63,2.93],
[0.17,3.07],[0.22,3.08],[0.28,3.07],[0.33,3.08],[0.39,3.07],[0.45,3.08],[0.51,3.07],[0.58,3.08],[0.66,3.07],
[0.19,3.16],[0.24,3.17],[0.30,3.16],[0.36,3.17],[0.42,3.16],[0.49,3.17],[0.55,3.16],[0.62,3.17],[0.70,3.16],
[0.20,3.25],[0.26,3.26],[0.32,3.25],[0.38,3.26],[0.44,3.25],[0.51,3.26],[0.58,3.25],[0.66,3.26]
];

// up-regulated genes far from the main cloud
const upOutliers = [
[1.83,1.70],[1.43,1.70],[1.63,2.13],[1.53,2.19],[1.71,2.29],[1.43,2.34],[1.48,2.40],[1.32,2.07],[1.29,2.42],[1.69,2.75],[1.32,3.48],[1.38,1.31],[1.12,2.40],[1.11,2.05],[2.05,4.60],[1.12,1.74],[1.14,1.70],[1.25,2.05],[1.30,2.20],[1.23,2.31],[0.95,1.03],[1.02,1.09],[1.06,1.07],[1.16,1.01],[0.21,3.76]
];

// labelled genes: name, log2 FC, -log10 p  (<i> marks italic part)
const geneNames = ["PA2788","PA2566","<i>trpB</i>","<i>amiR</i>","PA2030","PA2031","<i>pcrH</i>","<i>pauA6</i>","<i>popD</i>","PA5523","<i>trpA</i>","<i>amiE</i>","PA4078","PA3365 (<i>amiB</i>)","PA5460","PA2418","<i>amiC</i>","PA3510","PA2419","<i>leuC</i>","PA3980","<i>sbcB</i>","<i>wbpM</i>","PA3157(<i>wbpC</i>)","<i>mvaU</i>","PA0736","PA1877","<i>murG</i>","<i>tssF1</i>","PA3906","<i>clpV1</i>","<i>hcp1</i>","<i>tagJ1</i>","<i>tssG1</i>","<i>piv</i>","PA2699","PA2274","PA2698","PA2697","<i>algW</i>","<i>algD</i>"];
const geneFC   = [-1.195,-1.94,-2.60,-3.17,-2.94,-2.50,-1.83,-1.77,-1.70,-1.52,-2.13,-3.37,-3.00,-3.60,-2.43,-3.05,-3.43,-2.33,-2.59,-0.88,-0.52,-0.55,0.89,0.81,1.15,0.23,0.68,1.03,1.76,1.48,1.87,2.12,1.78,1.96,2.48,2.14,2.19,3.29,3.24,0.21,1.12];
const geneLogP = [7.60,5.95,5.58,5.28,5.21,4.85,5.13,5.13,4.33,4.35,3.96,3.96,3.45,3.31,3.43,3.04,2.69,2.55,2.48,4.82,5.46,5.15,6.16,5.77,5.77,5.30,5.24,5.17,5.50,5.09,4.95,4.62,3.96,3.39,3.06,2.98,2.24,3.65,2.34,3.76,2.40];

// ---------------- LAYOUT (label placement) ----------------
// [dx, dy, anchor, fontSize, arrowFrom(dx,dy) or undefined]
const labelLayout = {
 "PA2788":[-3,4,"end",11],"PA2566":[-3,4,"end",11],"<i>trpB</i>":[-4,3,"end",11],"<i>amiR</i>":[-3,3,"end",11],
 "PA2030":[4,4,"start",11],"PA2031":[-3,3,"end",11],"<i>pcrH</i>":[-2,4,"end",11],"<i>pauA6</i>":[3,4,"start",11],
 "<i>popD</i>":[-18,-6,"end",9,[-15,-5]],"PA5523":[-32,-15,"start",9,[-13,-11]],"<i>trpA</i>":[-4,4,"end",11],"<i>amiE</i>":[-2,4,"end",11],
 "PA4078":[-3,-7,"middle",11],"PA3365 (<i>amiB</i>)":[0,-5,"middle",9],"PA5460":[0,13,"middle",11],"PA2418":[0,13,"middle",11],
 "<i>amiC</i>":[-4,3,"end",11],"PA3510":[0,-3,"middle",10],"PA2419":[0,12,"middle",11],"<i>leuC</i>":[-1,-4,"middle",11],
 "PA3980":[0,-4,"middle",11],"<i>sbcB</i>":[3,4,"start",11],"<i>wbpM</i>":[4,4,"start",11],"PA3157(<i>wbpC</i>)":[-3,4,"end",11],
 "<i>mvaU</i>":[3,4,"start",11],"PA0736":[0,-5,"middle",11],"PA1877":[3,-2,"middle",11],"<i>murG</i>":[0,-9,"start",11],
 "<i>tssF1</i>":[4,4,"start",11],"PA3906":[-1,-3,"start",8.5],"<i>clpV1</i>":[4,4,"start",11],"<i>hcp1</i>":[4,3,"start",11],
 "<i>tagJ1</i>":[-5,-7,"middle",11],"<i>tssG1</i>":[4,4,"start",11],"<i>piv</i>":[4,4,"start",11],"PA2699":[-2,11,"middle",11],
 "PA2274":[-1,13,"middle",11],"PA2698":[5,3,"start",11],"PA2697":[3,3,"start",11],
 "<i>algW</i>":[-39,-32,"start",11,[-24,-28]],"<i>algD</i>":[50,54,"start",11,[46,46]]
};

// ---------------- DRAW ----------------
const svg = d3.select("#chart");
const W = 800, H = 455;
const pL = 46, pR = 798, pT = 22, pB = 413;
const x = d3.scaleLinear().domain([-4, 4.21]).range([pL, pR]);
const y = d3.scaleLinear().domain([0, 8.03]).range([pB, pT]);

const BLUE = "#3a52a8", RED = "#e6262b", AXIS = "#231f20", TEXT = "#262626";

svg.append("rect").attr("width",W).attr("height",H).attr("fill","#fff");

svg.append("defs").append("marker")
  .attr("id","arrow").attr("viewBox","0 0 10 10").attr("refX",9).attr("refY",5)
  .attr("markerWidth",7).attr("markerHeight",7).attr("orient","auto")
  .append("path").attr("d","M0,1.5 L10,5 L0,8.5 Z").attr("fill","#333");

const dots = svg.append("g");
const R = 1.25;
dots.append("g").selectAll("circle").data(downPts.concat(downCore, downOutliers)).join("circle")
  .attr("cx",d=>x(d[0])).attr("cy",d=>y(d[1])).attr("r",R).attr("fill",BLUE);
dots.append("g").selectAll("circle").data(upPts.concat(upCore, upOutliers)).join("circle")
  .attr("cx",d=>x(d[0])).attr("cy",d=>y(d[1])).attr("r",R).attr("fill",RED);

const genes = geneNames.map((n,i)=>({name:n, fc:geneFC[i], lp:geneLogP[i]}));
dots.append("g").selectAll("circle").data(genes).join("circle")
  .attr("cx",d=>x(d.fc)).attr("cy",d=>y(d.lp)).attr("r",R)
  .attr("fill",d=>d.fc<0?BLUE:RED);

const lab = svg.append("g").attr("font-family","'Open Sans', 'Noto Sans', sans-serif").attr("fill",TEXT);
genes.forEach(g=>{
  const L = labelLayout[g.name];
  const px = x(g.fc), py = y(g.lp);
  const t = lab.append("text").attr("x",px+L[0]).attr("y",py+L[1])
     .attr("text-anchor",L[2]).attr("font-size",L[3]);
  const parts = g.name.split(/(<i>.*?<\/i>)/).filter(s=>s.length);
  parts.forEach(p=>{
    if (p.startsWith("<i>")) {
      const isMixed = parts.length>1;
      t.append("tspan").attr("font-style","italic")
        .attr("font-size", isMixed ? (L[3]<10 ? L[3] : 9) : L[3])
        .text(p.replace(/<\/?i>/g,""));
    } else {
      t.append("tspan").text(p);
    }
  });
  if (L[4]) {
    lab.append("line").attr("x1",px+L[4][0]).attr("y1",py+L[4][1])
      .attr("x2",px).attr("y2",py-0.5)
      .attr("stroke","#333").attr("stroke-width",0.9).attr("marker-end","url(#arrow)");
  }
});

const minorX = d3.range(-20, 22).map(i=>i/5);
const minorY = d3.range(0, 41).map(i=>i/5);
const ax = svg.append("g");

const gxMinor = ax.append("g").attr("transform",`translate(0,${pB})`)
  .call(d3.axisBottom(x).tickValues(minorX).tickSize(4).tickFormat(""));
const gx = ax.append("g").attr("transform",`translate(0,${pB})`)
  .call(d3.axisBottom(x).tickValues(xTickValues).tickSize(7).tickPadding(7).tickFormat(d=>String(d)));
const gyMinor = ax.append("g").attr("transform",`translate(${pL},0)`)
  .call(d3.axisLeft(y).tickValues(minorY).tickSize(4).tickFormat(""));
const gy = ax.append("g").attr("transform",`translate(${pL},0)`)
  .call(d3.axisLeft(y).tickValues(yTickValues).tickSize(7).tickPadding(8).tickFormat(d=>String(d)));

[gxMinor,gx,gyMinor,gy].forEach(g=>{
  g.select(".domain").remove();
  g.selectAll(".tick line").attr("stroke",AXIS).attr("stroke-width",1.3);
  g.selectAll(".tick text").attr("fill",AXIS).attr("font-size",12).attr("font-weight","bold")
    .attr("font-family","'Liberation Sans', Arial, sans-serif");
});

svg.append("rect").attr("x",pL).attr("y",pT).attr("width",pR-pL).attr("height",pB-pT)
  .attr("fill","none").attr("stroke",AXIS).attr("stroke-width",1.5);

svg.append("text").attr("x",(pL+pR)/2).attr("y",12).attr("text-anchor","middle")
  .attr("font-family","'Liberation Sans', Arial, sans-serif").attr("font-weight","bold")
  .attr("font-size",12.5).attr("fill","#111").text(chartTitle);

const xt = svg.append("text").attr("x",(pL+pR)/2).attr("y",450).attr("text-anchor","middle")
  .attr("font-family","'Liberation Sans', Arial, sans-serif").attr("font-weight","bold")
  .attr("font-size",13).attr("fill","#111");
xt.append("tspan").text("log");
xt.append("tspan").attr("font-size",9).attr("dy",3).text("2");
xt.append("tspan").attr("dy",-3).text(" fold change");

const yt = svg.append("text").attr("transform",`translate(15,${(pT+pB)/2}) rotate(-90)`)
  .attr("text-anchor","middle")
  .attr("font-family","'Liberation Sans', Arial, sans-serif").attr("font-weight","bold")
  .attr("font-size",13).attr("fill","#111");
yt.append("tspan").text("-log");
yt.append("tspan").attr("font-size",9).attr("font-weight","normal").attr("dy",3).text("10");
yt.append("tspan").attr("dy",-3).text(" (p-values)");
</script>
</body></html>
